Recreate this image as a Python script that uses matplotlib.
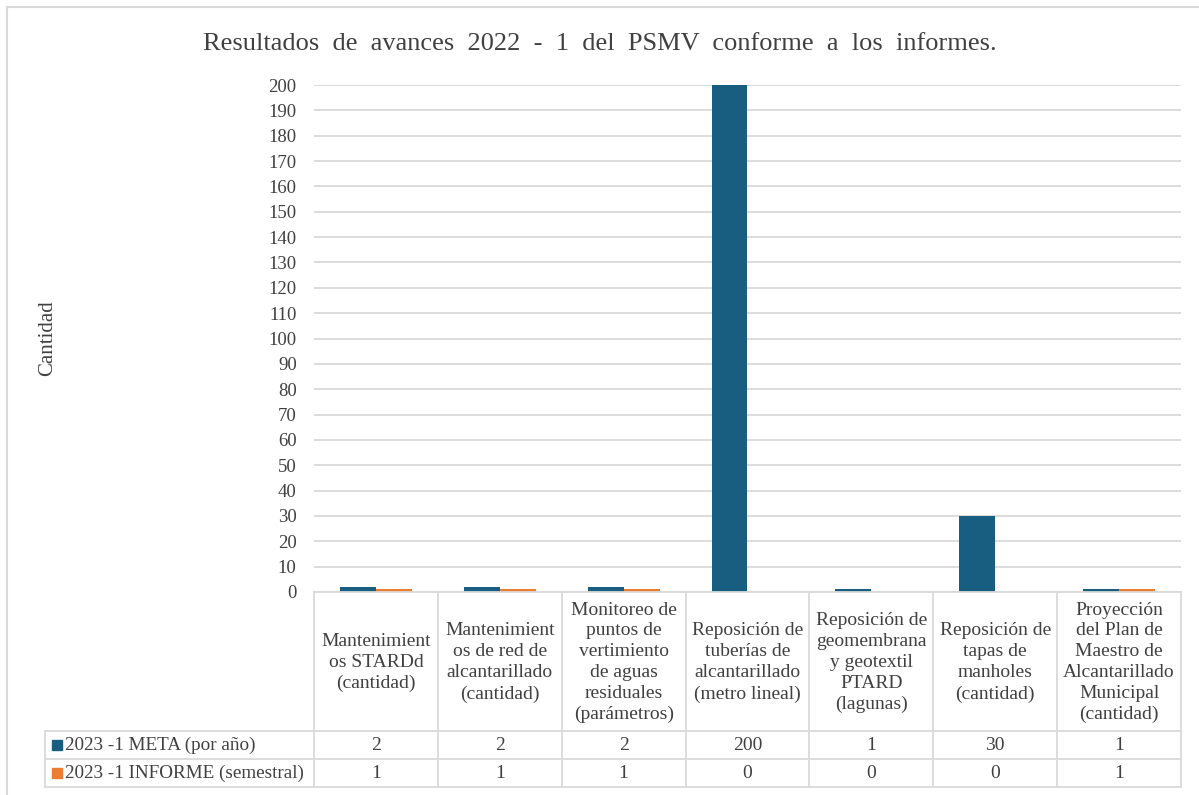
import matplotlib
matplotlib.use("Agg")
import matplotlib.pyplot as plt
from matplotlib.lines import Line2D
from matplotlib.patches import Rectangle
import numpy as np

plt.rcParams['font.family'] = ['Liberation Serif', 'DejaVu Serif']

title = "Resultados  de  avances  2022  -  1  del  PSMV  conforme  a  los  informes."
ylabel = "Cantidad"
categories = [
    "Mantenimient\nos STARDd\n(cantidad)",
    "Mantenimient\nos de red de\nalcantarillado\n(cantidad)",
    "Monitoreo de\npuntos de\nvertimiento\nde aguas\nresiduales\n(parámetros)",
    "Reposición de\ntuberías de\nalcantarillado\n(metro lineal)",
    "Reposición de\ngeomembrana\ny geotextil\nPTARD\n(lagunas)",
    "Reposición de\ntapas de\nmanholes\n(cantidad)",
    "Proyección\ndel Plan de\nMaestro de\nAlcantarillado\nMunicipal\n(cantidad)",
]
series_names = ["2023 -1 META (por año)", "2023 -1 INFORME (semestral)"]
meta = [2, 2, 2, 200, 1, 30, 1]
informe = [1, 1, 1, 0, 0, 0, 1]
yticks = list(range(0, 201, 10))

colors = ["#175E80", "#ED7D31"]
grid_c = "#D9D9D9"
text_c = "#404040"

W, H = 1199, 795
fig = plt.figure(figsize=(W / 100, H / 100), dpi=100)

def fx(x):
    return x / W

def fy(y):
    return 1 - y / H

x0, x1 = 314, 1181
y_top, y_zero = 85, 592
ax = fig.add_axes([fx(x0), fy(y_zero), fx(x1) - fx(x0), fy(y_top) - fy(y_zero)])
n = len(categories)
x = np.arange(n)
bw = 0.29
ax.bar(x - bw / 2, meta, bw, color=colors[0], zorder=3)
ax.bar(x + bw / 2, informe, bw, color=colors[1], zorder=3)
ax.set_xlim(-0.5, n - 0.5)
ax.set_ylim(0, 200)
ax.set_yticks(yticks)
ax.set_yticklabels([str(t) for t in yticks], fontsize=13.5, color=text_c)
ax.tick_params(axis='y', length=0, pad=12.5)
ax.set_xticks([])
ax.yaxis.grid(True, color=grid_c, linewidth=1.3, zorder=0)
for s in ax.spines.values():
    s.set_visible(False)

fig.text(fx(600), fy(44), title, ha='center', va='center', fontsize=19, color=text_c)
fig.text(fx(48), fy(338), ylabel, ha='center', va='center', rotation=90, fontsize=15, color=text_c)

# Outer border (light gray)
fig.add_artist(Line2D([fx(7), fx(7)], [fy(7), fy(H + 5)], color=grid_c, lw=1.5))
fig.add_artist(Line2D([fx(7), fx(W + 5)], [fy(7), fy(7)], color=grid_c, lw=1.5))

# Data table
col_w = (x1 - x0) / n
cols = [x0 + i * col_w for i in range(n + 1)]
r0, r1, r2, r3 = 592, 731, 759, 787
tl = 45
lw = 1.3
def hline(y, xa, xb):
    fig.add_artist(Line2D([fx(xa), fx(xb)], [fy(y), fy(y)], color=grid_c, lw=lw))
def vline(xv, ya, yb):
    fig.add_artist(Line2D([fx(xv), fx(xv)], [fy(ya), fy(yb)], color=grid_c, lw=lw))

hline(r0, x0, x1)
hline(r1, tl, x1)
hline(r2, tl, x1)
hline(r3, tl, x1)
vline(tl, r1, r3)
for c in cols:
    vline(c, r0, r3)

fs = 14
for i, cat in enumerate(categories):
    cx = (cols[i] + cols[i + 1]) / 2
    fig.text(fx(cx), fy((r0 + r1) / 2 + 1), cat, ha='center', va='center',
             fontsize=fs, color=text_c, linespacing=1.3)
    fig.text(fx(cx), fy((r1 + r2) / 2), str(meta[i]), ha='center', va='center',
             fontsize=fs, color=text_c)
    fig.text(fx(cx), fy((r2 + r3) / 2), str(informe[i]), ha='center', va='center',
             fontsize=fs, color=text_c)

for j, (name, col) in enumerate(zip(series_names, colors)):
    yc = (r1 + r2) / 2 if j == 0 else (r2 + r3) / 2
    fig.add_artist(Rectangle((fx(52), fy(yc + 5)), fx(10), fy(yc - 5) - fy(yc + 5),
                             color=col, transform=fig.transFigure))
    fig.text(fx(65), fy(yc), name, ha='left', va='center', fontsize=13.8, color=text_c)

fig.savefig("out.png", dpi=100, facecolor="white")
